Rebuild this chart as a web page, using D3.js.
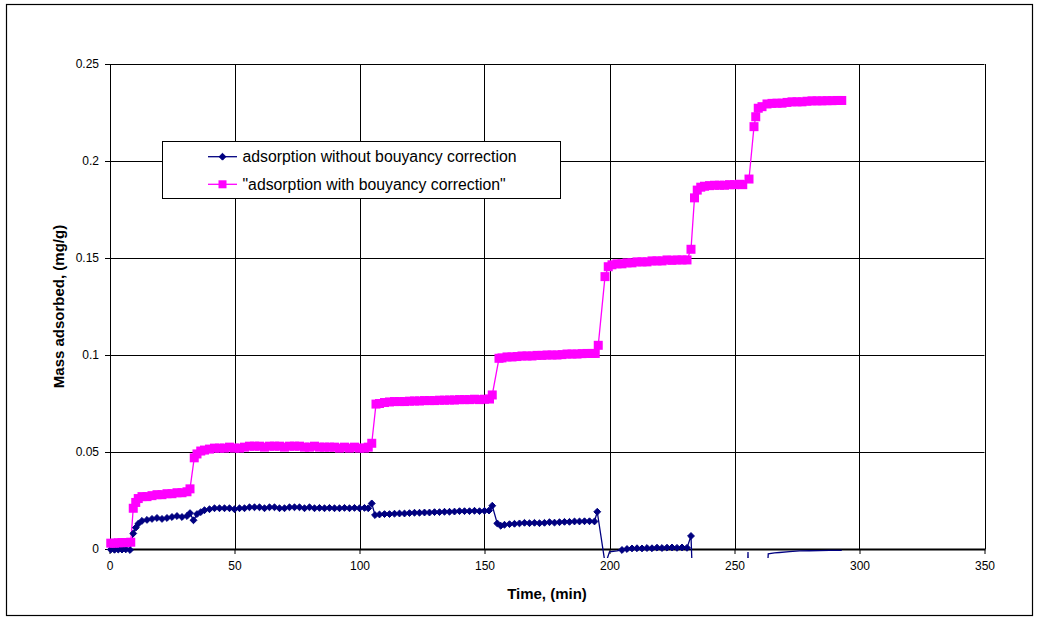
<!DOCTYPE html>
<html>
<head>
<meta charset="utf-8">
<script src="https://cdn.jsdelivr.net/npm/d3@7"></script>
<style>
  html, body { margin: 0; padding: 0; background: #fff; }
  svg { display: block; }
  text { font-family: "Liberation Sans", Arial, sans-serif; }
</style>
</head>
<body>
<svg id="chart" width="1041" height="617"></svg>
<script>
// ---------- data ----------
const seriesNames = ["adsorption without bouyancy correction", "\"adsorption with bouyancy correction\""];
const xTicks = [0, 50, 100, 150, 200, 250, 300, 350];
const yTicks = [0, 0.05, 0.1, 0.15, 0.2, 0.25];
const yTickLabels = ["0", "0.05", "0.1", "0.15", "0.2", "0.25"];
const xTitle = "Time, (min)";
const yTitle = "Mass adsorbed, (mg/g)";

// corrected (magenta)
const corrTime = [0.5,2,3.5,5,6.5,8.5,9.5,10.5,11.5,13,15,17,19,21,23,25,27,29,31,32.2,
  33.9,35,36.5,38,40,42,44,46,48,50,52,54,56,58,60,62,64,66,68,70,72,74,76,78,80,82,84,86,88,90,92,94,96,98,100,102,103.5,104.9,
  106.6,108,110,112,114,116,118,120,122,124,126,128,130,132,134,136,138,140,142,144,146,148,150,152,153.1,
  155.8,157,159,161,163,165,167,169,171,173,175,177,179,181,183,185,187,189,191,193,194.3,195.5,
  198.2,199.5,201,203,205,207,209,211,213,215,217,219,221,223,225,227,229,231,232.6,
  234,235.1,236.5,238,240,242,244,246,248,250,252,253.3,255.8,
  257.8,258.5,259.5,261,263,265,267,269,271,273,275,277,279,281,283,285,287,289,291,292.9];
const corrValue = [0.003,0.003,0.0032,0.0033,0.0033,0.0035,0.021,0.024,0.026,0.027,0.027,0.0275,0.028,0.028,0.0285,0.0285,0.029,0.029,0.0295,0.031,
  0.047,0.049,0.0505,0.051,0.0515,0.052,0.052,0.052,0.0525,0.052,0.052,0.0525,0.053,0.053,0.053,0.0525,0.053,0.053,0.053,0.0525,0.053,0.053,0.053,0.0525,0.0525,0.053,0.0525,0.0525,0.0525,0.0525,0.052,0.0525,0.052,0.0525,0.052,0.052,0.0525,0.0545,
  0.0747,0.075,0.0755,0.0758,0.076,0.076,0.076,0.0762,0.0763,0.0763,0.0765,0.0765,0.0765,0.0767,0.0767,0.0768,0.0768,0.077,0.077,0.077,0.0772,0.077,0.0772,0.0773,0.0794,
  0.0983,0.0985,0.099,0.099,0.0992,0.0995,0.0995,0.0995,0.0998,0.0998,0.1,0.1,0.1,0.1002,0.1005,0.1005,0.1005,0.1007,0.1008,0.1008,0.1008,0.105,
  0.1404,0.1455,0.1465,0.147,0.147,0.1475,0.1475,0.148,0.148,0.148,0.1485,0.1485,0.1485,0.149,0.1488,0.149,0.149,0.149,0.1545,
  0.181,0.185,0.1865,0.187,0.1873,0.1875,0.1875,0.1875,0.1878,0.1878,0.188,0.1878,0.1907,
  0.2177,0.2228,0.2272,0.228,0.2294,0.2297,0.2298,0.2298,0.2302,0.2305,0.2305,0.2305,0.2308,0.231,0.231,0.231,0.2311,0.2311,0.2312,0.2312];

// uncorrected (navy)
const rawTime = [0.5,2,3.5,5,6.5,8.2,9.5,10.5,11.5,13,15,17,19,21,23,25,27,29,31,32.2,33.6,35,36.5,38,40,42,44,46,48,50,52,54,56,58,60,62,64,66,68,70,72,74,76,78,80,82,84,86,88,90,92,94,96,98,100,102,103.5,104.9,
  106.2,108,110,112,114,116,118,120,122,124,126,128,130,132,134,136,138,140,142,144,146,148,150,151.8,153.1,
  155.1,156.5,158,160,162,164,166,168,170,172,174,176,178,180,182,184,186,188,190,192,194,195.1,
  198.3,200,203,205,207,209,211,213,215,217,219,221,223,225,227,229,231,232.6,
  233.6,236,240,245,250,254.9,255.4,255.9,259,262.3,263.5,266,268,272,276,280,284,288,292.9];
const rawValue = [-0.0003,-0.0004,-0.0003,-0.0003,-0.0002,-0.0005,0.008,0.011,0.013,0.0145,0.015,0.0155,0.016,0.0155,0.016,0.0165,0.017,0.0165,0.017,0.0185,0.0148,0.018,0.019,0.02,0.0205,0.021,0.021,0.021,0.021,0.0205,0.021,0.021,0.0215,0.0215,0.0215,0.021,0.0215,0.0215,0.021,0.021,0.0215,0.0215,0.0215,0.021,0.0215,0.021,0.0212,0.021,0.0212,0.021,0.021,0.0212,0.021,0.0212,0.021,0.0212,0.021,0.0235,
  0.0175,0.0178,0.018,0.018,0.0182,0.0183,0.0183,0.0185,0.0187,0.0187,0.0188,0.0188,0.019,0.019,0.0192,0.0192,0.0193,0.0195,0.0195,0.0195,0.0197,0.0195,0.0197,0.0198,0.0223,
  0.0132,0.012,0.0125,0.0128,0.013,0.0132,0.0135,0.0133,0.0135,0.0133,0.0135,0.0138,0.0136,0.0138,0.014,0.014,0.0142,0.0142,0.0143,0.0143,0.0142,0.0192,
  -0.008,-0.0015,-0.001,-0.0005,0,0.0003,0.0004,0.0003,0.0005,0.0004,0.0007,0.0005,0.0007,0.0008,0.0006,0.0008,0.0006,0.0067,
  -0.03,-0.03,-0.03,-0.03,-0.03,-0.03,-0.0015,-0.03,-0.03,-0.03,-0.0025,-0.002,-0.0018,-0.0014,-0.001,-0.0009,-0.0008,-0.0007,-0.0007];

// ---------- layout ----------
const svg = d3.select("#chart");
const L = 109.5, R = 984.5, T = 64, B = 549;
const x = d3.scaleLinear().domain([0, 350]).range([L, R]);
const y = d3.scaleLinear().domain([0, 0.25]).range([B, T]);
const navy = "#000080", magenta = "#FF00FF";

// outer frame
svg.append("rect").attr("x", 6.5).attr("y", 4.5).attr("width", 1026).attr("height", 611)
  .attr("fill", "none").attr("stroke", "#000").attr("stroke-width", 1.2);

// grid
const grid = svg.append("g");
grid.selectAll("line.h").data(yTicks).join("line")
  .attr("x1", L).attr("x2", R)
  .attr("y1", d => Math.round(y(d)) + 0.5).attr("y2", d => Math.round(y(d)) + 0.5)
  .attr("stroke", "#000").attr("stroke-width", 1);
grid.selectAll("line.v").data(xTicks).join("line")
  .attr("y1", T).attr("y2", B)
  .attr("x1", d => Math.round(x(d)) + 0.5).attr("x2", d => Math.round(x(d)) + 0.5)
  .attr("stroke", "#000").attr("stroke-width", 1);

// axes
const yAxis = d3.axisLeft(y).tickValues(yTicks).tickFormat((d, i) => yTickLabels[i]).tickSize(5).tickPadding(6);
const gy = svg.append("g").attr("transform", `translate(${Math.round(L)},0)`).call(yAxis);
const xAxis = d3.axisBottom(x).tickValues(xTicks).tickFormat(d3.format("d")).tickSize(5).tickPadding(7);
const gx = svg.append("g").attr("transform", `translate(0,${B})`).call(xAxis);
[gx, gy].forEach(g => {
  g.select(".domain").remove();
  g.selectAll("line").attr("stroke", "#000");
  g.selectAll("text").attr("font-size", 12).attr("fill", "#000")
    .attr("font-family", "'Liberation Sans', Arial, sans-serif");
});
svg.append("line").attr("x1", L).attr("x2", R + 1).attr("y1", B + 0.5).attr("y2", B + 0.5)
  .attr("stroke", "#000").attr("stroke-width", 2);
svg.append("line").attr("x1", Math.round(L) + 0.5).attr("x2", Math.round(L) + 0.5).attr("y1", T).attr("y2", B)
  .attr("stroke", "#000").attr("stroke-width", 1);

// clip for lines
svg.append("defs").append("clipPath").attr("id", "plotclip")
  .append("rect").attr("x", L).attr("y", T - 5).attr("width", R - L).attr("height", B - T + 14);

const rawData = rawTime.map((t, i) => ({ t, v: rawValue[i] }));
const corrData = corrTime.map((t, i) => ({ t, v: corrValue[i] }));
const line = d3.line().x(d => x(d.t)).y(d => y(d.v));

const plot = svg.append("g");
plot.append("path").datum(rawData).attr("d", line).attr("fill", "none")
  .attr("stroke", navy).attr("stroke-width", 1.3).attr("clip-path", "url(#plotclip)");
plot.append("path").datum(corrData).attr("d", line).attr("fill", "none")
  .attr("stroke", magenta).attr("stroke-width", 1.3).attr("clip-path", "url(#plotclip)");

const diamond = d3.symbol().type(d3.symbolDiamond2).size(30);
plot.selectAll("path.raw").data(rawData.filter(d => d.v >= -0.0006)).join("path")
  .attr("class", "raw").attr("d", diamond)
  .attr("transform", d => `translate(${x(d.t)},${y(d.v)})`)
  .attr("fill", navy).attr("stroke", navy).attr("stroke-width", 1);
plot.selectAll("rect.corr").data(corrData).join("rect")
  .attr("class", "corr")
  .attr("x", d => x(d.t) - 4.5).attr("y", d => y(d.v) - 4.5)
  .attr("width", 9).attr("height", 9).attr("fill", magenta);

// titles
svg.append("text").attr("x", (L + R) / 2).attr("y", 599).attr("text-anchor", "middle")
  .attr("font-size", 15).attr("font-weight", "bold").text(xTitle);
svg.append("text").attr("transform", `translate(64,${(T + B) / 2}) rotate(-90)`)
  .attr("text-anchor", "middle").attr("font-size", 15).attr("font-weight", "bold").text(yTitle);

// legend
const lg = svg.append("g");
lg.append("rect").attr("x", 162.5).attr("y", 141.5).attr("width", 398).attr("height", 57)
  .attr("fill", "#fff").attr("stroke", "#000").attr("stroke-width", 1);
const legendY = [156.7, 184.3];
const colors = [navy, magenta];
seriesNames.forEach((name, i) => {
  lg.append("line").attr("x1", 208).attr("x2", 237).attr("y1", legendY[i]).attr("y2", legendY[i])
    .attr("stroke", colors[i]).attr("stroke-width", 1.3);
  if (i === 0) {
    lg.append("path").attr("d", diamond).attr("transform", `translate(222.5,${legendY[i]})`)
      .attr("fill", navy).attr("stroke", navy).attr("stroke-width", 1);
  } else {
    lg.append("rect").attr("x", 218.5).attr("y", legendY[i] - 4).attr("width", 8).attr("height", 8).attr("fill", magenta);
  }
  lg.append("text").attr("x", 242.5).attr("y", legendY[i]).attr("dy", "0.35em")
    .attr("font-size", 15.8).attr("fill", "#000").text(name);
});
</script>
</body>
</html>
